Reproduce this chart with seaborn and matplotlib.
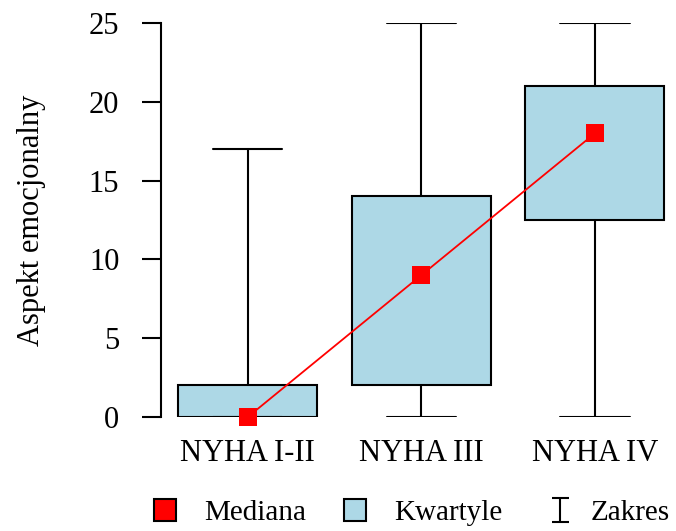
import matplotlib
matplotlib.use("Agg")
import matplotlib.pyplot as plt
from matplotlib.lines import Line2D
from matplotlib.path import Path
import seaborn as sns

# Summary statistics per NYHA class
categories = ["NYHA I-II", "NYHA III", "NYHA IV"]
minimum = [0, 0, 0]
q1 = [0, 2, 12.5]
median = [0, 9, 18]
q3 = [2, 14, 21]
maximum = [17, 25, 25]
y_ticks = [0, 5, 10, 15, 20, 25]

sns.set_style("ticks")
plt.rcParams["font.family"] = ["Liberation Serif", "DejaVu Serif"]
for key in ["text.color", "axes.labelcolor", "xtick.color", "ytick.color",
            "axes.edgecolor"]:
    plt.rcParams[key] = "black"

PX = 72 / 100  # points per pixel at dpi 100

fig = plt.figure(figsize=(6.76, 5.31), dpi=100)
ax = fig.add_axes([161 / 676, 1 - 417 / 531, 512 / 676, 394 / 531])

positions = list(range(len(categories)))
stats = [
    dict(whislo=lo, q1=a, med=m, q3=b, whishi=hi, label=c)
    for c, lo, a, m, b, hi in zip(categories, minimum, q1, median, q3, maximum)
]
ax.bxp(
    stats,
    positions=positions,
    widths=0.8,
    capwidths=0.4,
    showfliers=False,
    patch_artist=True,
    boxprops=dict(facecolor="#add8e6", edgecolor="black", linewidth=1.5),
    whiskerprops=dict(color="black", linewidth=1.5),
    capprops=dict(color="black", linewidth=1.5),
    medianprops=dict(linewidth=0),
)

# Medians joined by a line
sns.lineplot(
    x=positions, y=median, ax=ax, color="red", linewidth=1.3,
    marker="s", markersize=13, markeredgewidth=0, zorder=5, clip_on=False,
)

ax.set_xlim(-0.5, 2.45)
ax.set_ylim(0, 25)
ax.set_yticks(y_ticks)
ax.set_xticks(positions)
ax.set_xticklabels(categories)
ax.tick_params(axis="y", length=14, width=1.5, pad=16, labelsize=22, direction="out")
ax.tick_params(axis="x", length=0, pad=16, labelsize=22)
for side in ["top", "right", "bottom"]:
    ax.spines[side].set_visible(False)
ax.spines["left"].set_linewidth(1.5)
ax.set_xlabel("")
ax.set_ylabel("Aspekt emocjonalny", fontsize=22)
ax.yaxis.set_label_coords((46 - 161) / 512, 0.5)

# Legend: the range symbol is an I-beam, set slightly right within its handle
ibeam = Path(
    [(0.5, 12), (17.5, 12), (9, 12), (9, -12), (0.5, -12), (17.5, -12)],
    [Path.MOVETO, Path.LINETO, Path.MOVETO, Path.LINETO, Path.MOVETO, Path.LINETO],
)
handles = [
    Line2D([], [], linestyle="none", marker="s", markersize=22 * PX,
           markerfacecolor="red", markeredgecolor="black", markeredgewidth=1.5),
    Line2D([], [], linestyle="none", marker="s", markersize=22 * PX,
           markerfacecolor="#add8e6", markeredgecolor="black", markeredgewidth=1.5),
    Line2D([], [], linestyle="none", marker=ibeam, markersize=35 * PX,
           markerfacecolor="none", markeredgecolor="black", markeredgewidth=1.5),
]
fig.legend(
    handles, ["Mediana", "Kwartyle", "Zakres"],
    loc="center left", bbox_to_anchor=(150 / 676, 1 - 513 / 531),
    ncol=3, frameon=False, fontsize=21, handlelength=1.0,
    handletextpad=0.87, columnspacing=1.15, borderaxespad=0, borderpad=0,
)

fig.savefig("out.png", dpi=100)
